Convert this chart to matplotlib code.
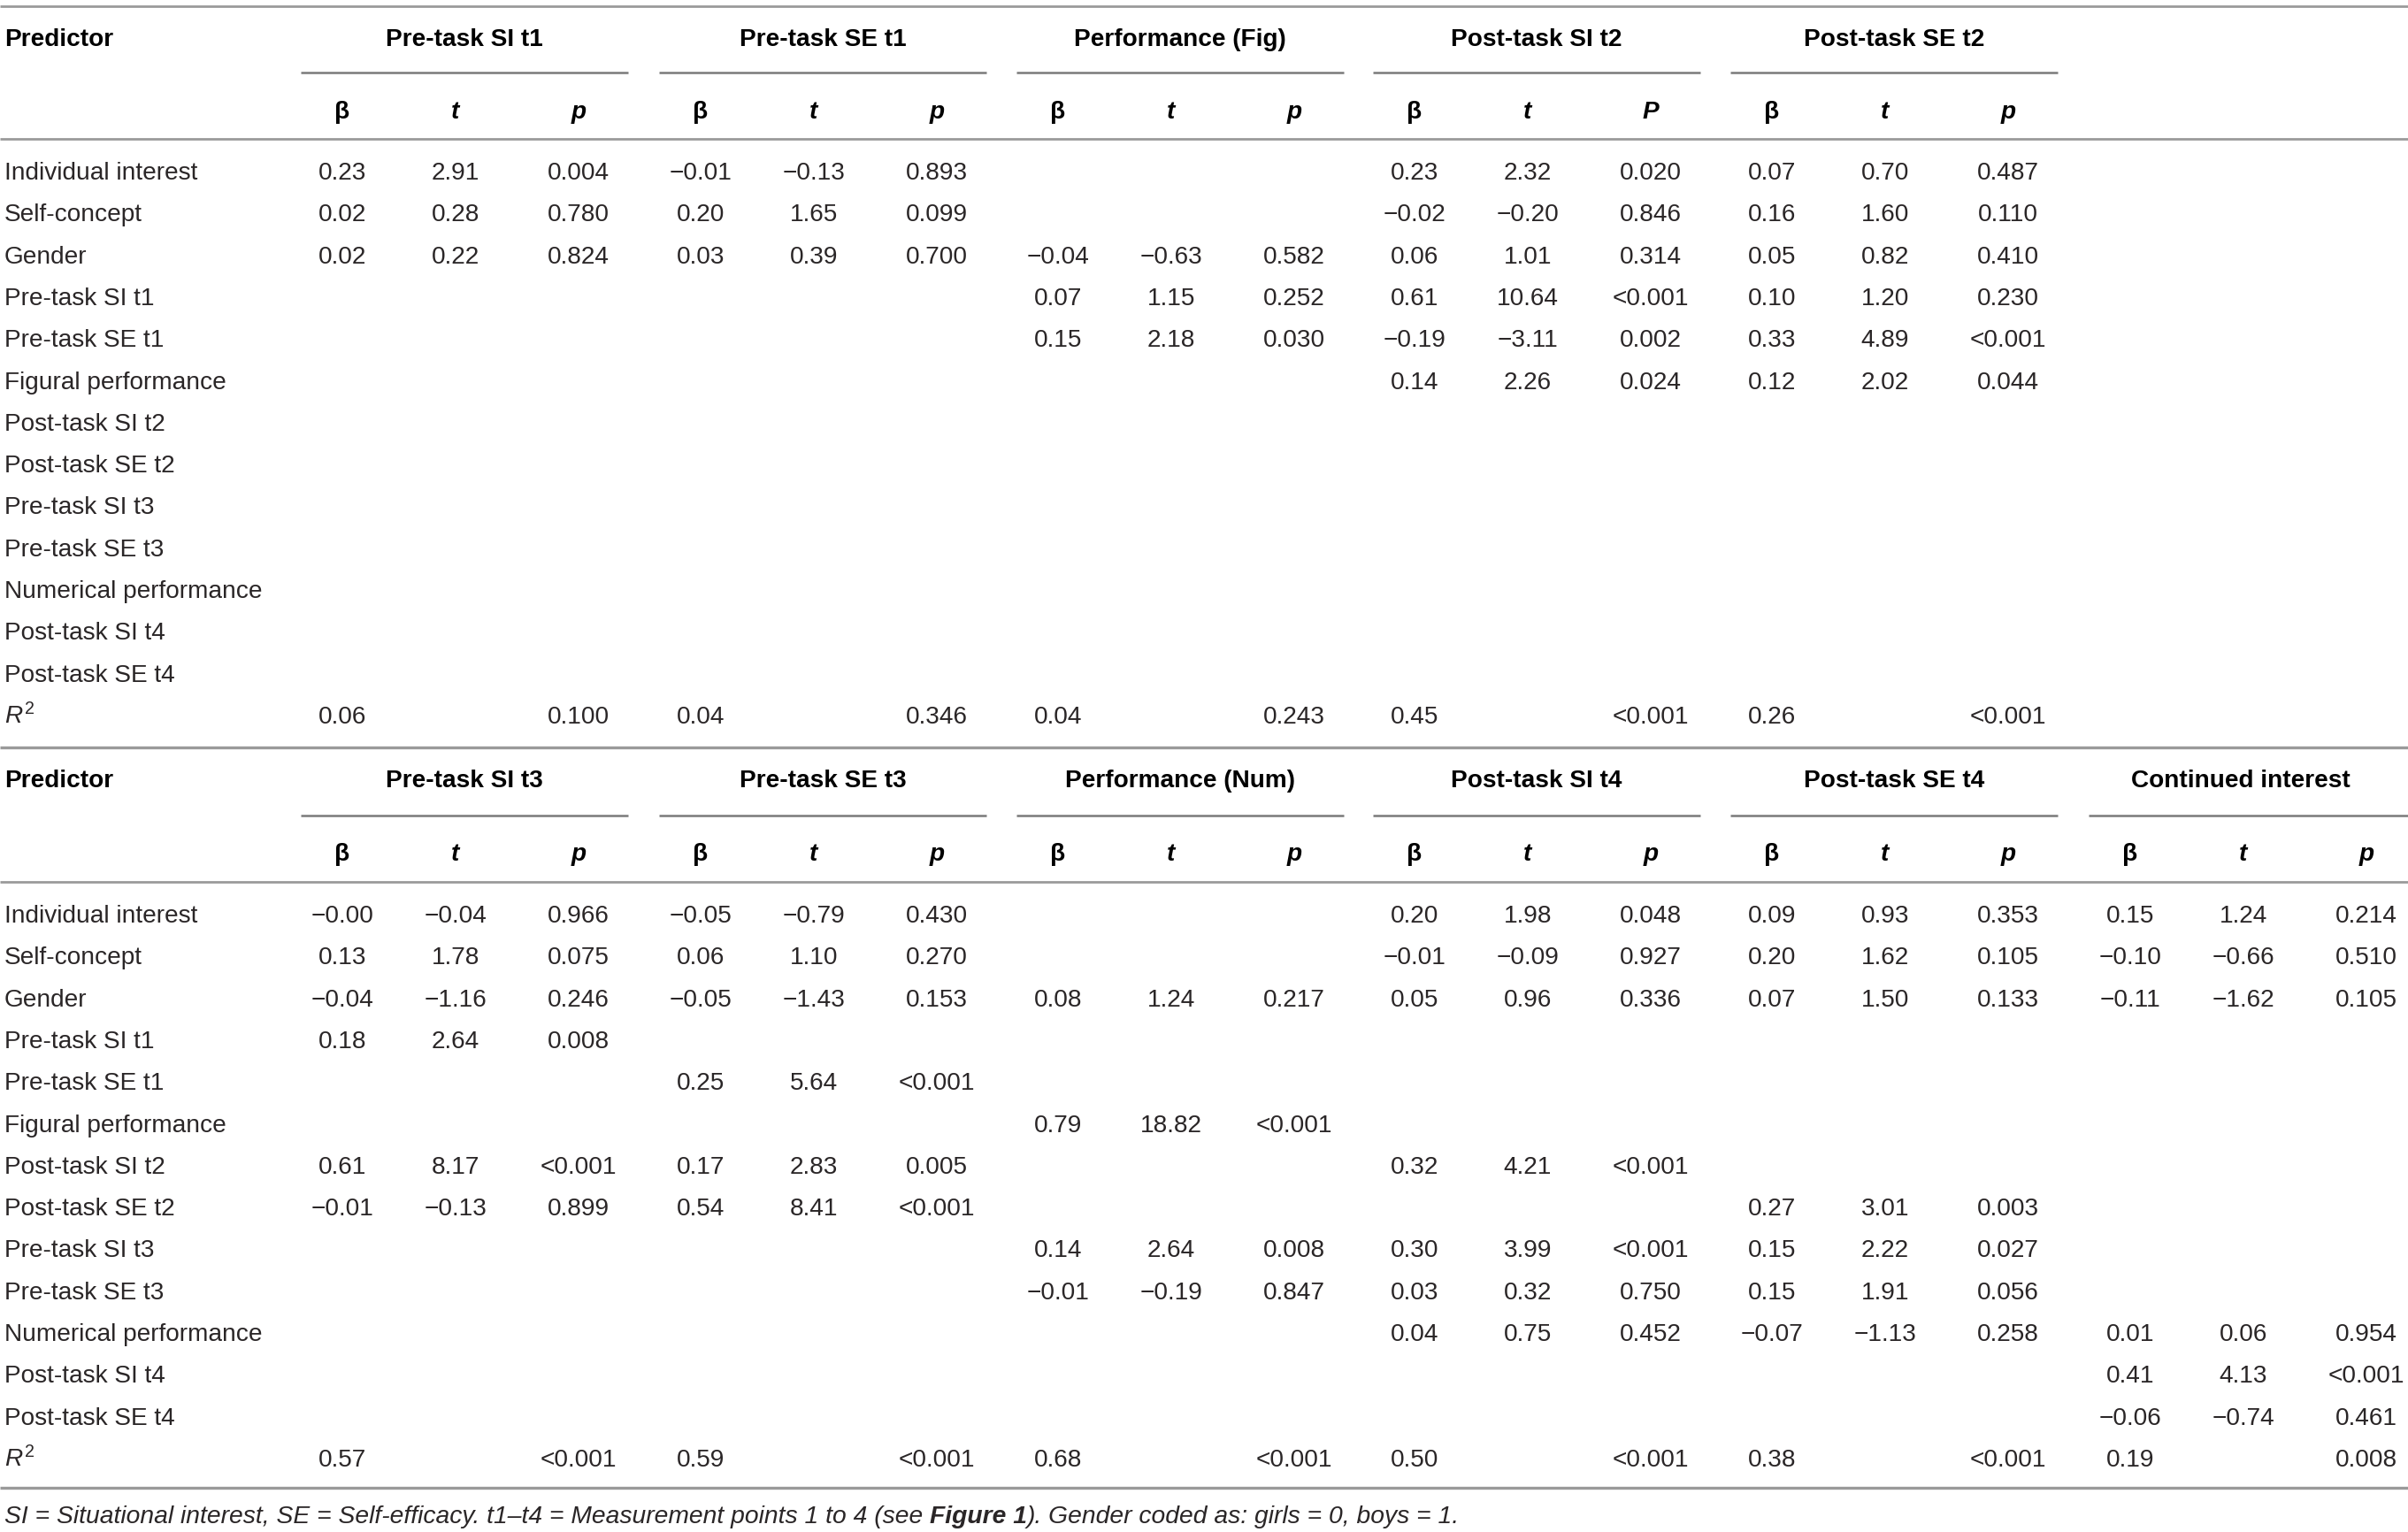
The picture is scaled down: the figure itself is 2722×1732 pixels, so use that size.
import matplotlib
matplotlib.use("Agg")
import matplotlib.pyplot as plt

plt.rcParams['font.family'] = ['Liberation Sans', 'DejaVu Sans']
plt.rcParams['mathtext.fontset'] = 'custom'
plt.rcParams['mathtext.rm'] = 'Liberation Sans'
plt.rcParams['mathtext.it'] = 'Liberation Sans:italic'

# ---- data ----
predictors = ["Individual interest", "Self-concept", "Gender", "Pre-task SI t1", "Pre-task SE t1",
              "Figural performance", "Post-task SI t2", "Post-task SE t2", "Pre-task SI t3",
              "Pre-task SE t3", "Numerical performance", "Post-task SI t4", "Post-task SE t4"]

M = "\u2212"  # minus sign

top_titles = ["Pre-task SI t1", "Pre-task SE t1", "Performance (Fig)", "Post-task SI t2", "Post-task SE t2"]
top_stats = [["β", "t", "p"], ["β", "t", "p"], ["β", "t", "p"], ["β", "t", "P"], ["β", "t", "p"]]

# each column: 13 predictor rows + R² row
pre_si_t1_b = ["0.23", "0.02", "0.02", "", "", "", "", "", "", "", "", "", "", "0.06"]
pre_si_t1_t = ["2.91", "0.28", "0.22", "", "", "", "", "", "", "", "", "", "", ""]
pre_si_t1_p = ["0.004", "0.780", "0.824", "", "", "", "", "", "", "", "", "", "", "0.100"]

pre_se_t1_b = [M + "0.01", "0.20", "0.03", "", "", "", "", "", "", "", "", "", "", "0.04"]
pre_se_t1_t = [M + "0.13", "1.65", "0.39", "", "", "", "", "", "", "", "", "", "", ""]
pre_se_t1_p = ["0.893", "0.099", "0.700", "", "", "", "", "", "", "", "", "", "", "0.346"]

perf_fig_b = ["", "", M + "0.04", "0.07", "0.15", "", "", "", "", "", "", "", "", "0.04"]
perf_fig_t = ["", "", M + "0.63", "1.15", "2.18", "", "", "", "", "", "", "", "", ""]
perf_fig_p = ["", "", "0.582", "0.252", "0.030", "", "", "", "", "", "", "", "", "0.243"]

post_si_t2_b = ["0.23", M + "0.02", "0.06", "0.61", M + "0.19", "0.14", "", "", "", "", "", "", "", "0.45"]
post_si_t2_t = ["2.32", M + "0.20", "1.01", "10.64", M + "3.11", "2.26", "", "", "", "", "", "", "", ""]
post_si_t2_p = ["0.020", "0.846", "0.314", "<0.001", "0.002", "0.024", "", "", "", "", "", "", "", "<0.001"]

post_se_t2_b = ["0.07", "0.16", "0.05", "0.10", "0.33", "0.12", "", "", "", "", "", "", "", "0.26"]
post_se_t2_t = ["0.70", "1.60", "0.82", "1.20", "4.89", "2.02", "", "", "", "", "", "", "", ""]
post_se_t2_p = ["0.487", "0.110", "0.410", "0.230", "<0.001", "0.044", "", "", "", "", "", "", "", "<0.001"]

bot_titles = ["Pre-task SI t3", "Pre-task SE t3", "Performance (Num)", "Post-task SI t4",
              "Post-task SE t4", "Continued interest"]
bot_stats = [["β", "t", "p"]] * 6

pre_si_t3_b = [M + "0.00", "0.13", M + "0.04", "0.18", "", "", "0.61", M + "0.01", "", "", "", "", "", "0.57"]
pre_si_t3_t = [M + "0.04", "1.78", M + "1.16", "2.64", "", "", "8.17", M + "0.13", "", "", "", "", "", ""]
pre_si_t3_p = ["0.966", "0.075", "0.246", "0.008", "", "", "<0.001", "0.899", "", "", "", "", "", "<0.001"]

pre_se_t3_b = [M + "0.05", "0.06", M + "0.05", "", "0.25", "", "0.17", "0.54", "", "", "", "", "", "0.59"]
pre_se_t3_t = [M + "0.79", "1.10", M + "1.43", "", "5.64", "", "2.83", "8.41", "", "", "", "", "", ""]
pre_se_t3_p = ["0.430", "0.270", "0.153", "", "<0.001", "", "0.005", "<0.001", "", "", "", "", "", "<0.001"]

perf_num_b = ["", "", "0.08", "", "", "0.79", "", "", "0.14", M + "0.01", "", "", "", "0.68"]
perf_num_t = ["", "", "1.24", "", "", "18.82", "", "", "2.64", M + "0.19", "", "", "", ""]
perf_num_p = ["", "", "0.217", "", "", "<0.001", "", "", "0.008", "0.847", "", "", "", "<0.001"]

post_si_t4_b = ["0.20", M + "0.01", "0.05", "", "", "", "0.32", "", "0.30", "0.03", "0.04", "", "", "0.50"]
post_si_t4_t = ["1.98", M + "0.09", "0.96", "", "", "", "4.21", "", "3.99", "0.32", "0.75", "", "", ""]
post_si_t4_p = ["0.048", "0.927", "0.336", "", "", "", "<0.001", "", "<0.001", "0.750", "0.452", "", "", "<0.001"]

post_se_t4_b = ["0.09", "0.20", "0.07", "", "", "", "", "0.27", "0.15", "0.15", M + "0.07", "", "", "0.38"]
post_se_t4_t = ["0.93", "1.62", "1.50", "", "", "", "", "3.01", "2.22", "1.91", M + "1.13", "", "", ""]
post_se_t4_p = ["0.353", "0.105", "0.133", "", "", "", "", "0.003", "0.027", "0.056", "0.258", "", "", "<0.001"]

cont_b = ["0.15", M + "0.10", M + "0.11", "", "", "", "", "", "", "", "0.01", "0.41", M + "0.06", "0.19"]
cont_t = ["1.24", M + "0.66", M + "1.62", "", "", "", "", "", "", "", "0.06", "4.13", M + "0.74", ""]
cont_p = ["0.214", "0.510", "0.105", "", "", "", "", "", "", "", "0.954", "<0.001", "0.461", "0.008"]

top_groups = [(pre_si_t1_b, pre_si_t1_t, pre_si_t1_p), (pre_se_t1_b, pre_se_t1_t, pre_se_t1_p),
              (perf_fig_b, perf_fig_t, perf_fig_p), (post_si_t2_b, post_si_t2_t, post_si_t2_p),
              (post_se_t2_b, post_se_t2_t, post_se_t2_p)]
bot_groups = [(pre_si_t3_b, pre_si_t3_t, pre_si_t3_p), (pre_se_t3_b, pre_se_t3_t, pre_se_t3_p),
              (perf_num_b, perf_num_t, perf_num_p), (post_si_t4_b, post_si_t4_t, post_si_t4_p),
              (post_se_t4_b, post_se_t4_t, post_se_t4_p), (cont_b, cont_t, cont_p)]

# ---- layout ----
W, H = 2722, 1732
DPI = 200
FS = 10.1
TXT = "#2a2627"
RULE = "#9a9a9a"
BASE = 10  # half cap height in px

group_x0 = [340, 745, 1149, 1552, 1956, 2361]
title_cx = [525, 930, 1334, 1737, 2141, 2533]
group_len = 370
col_off = [47, 175, 314]
row_step = 47.3

fig = plt.figure(figsize=(W / DPI, H / DPI), dpi=DPI)
ax = fig.add_axes([0, 0, 1, 1])
ax.set_xlim(0, W)
ax.set_ylim(H, 0)
ax.axis("off")


def hline(y, x0=0, x1=W, color=RULE, lw=1.0):
    ax.plot([x0, x1], [y, y], color=color, lw=lw, solid_capstyle="butt")


def draw_block(titles, stats, groups, y_head, y_sub, y_stat, y_rule, y_row0):
    ax.text(5, y_head + BASE, "Predictor", fontsize=FS, fontweight="bold", color="black", va="baseline")
    for g, title in enumerate(titles):
        x0 = group_x0[g]
        ax.text(title_cx[g], y_head + BASE, title, fontsize=FS, fontweight="bold",
                color="black", ha="center", va="baseline")
        hline(y_sub, x0, x0 + group_len, color="#7a7a7a", lw=0.9)
        for c, lab in enumerate(stats[g]):
            style = "normal" if lab == "β" else "italic"
            ax.text(x0 + col_off[c], y_stat + BASE, lab, fontsize=FS, fontweight="bold",
                    fontstyle=style, color="black", ha="center", va="baseline")
    hline(y_rule)
    for r, name in enumerate(predictors):
        ax.text(5, y_row0 + r * row_step + BASE, name, fontsize=FS, color=TXT, va="baseline")
    ax.text(5, y_row0 + 13 * row_step + BASE, r"$R^{\mathrm{2}}$", fontsize=FS, color=TXT, va="baseline")
    for g, cols in enumerate(groups):
        for c, col in enumerate(cols):
            for r, val in enumerate(col):
                if val:
                    ax.text(group_x0[g] + col_off[c], y_row0 + r * row_step + BASE, val,
                            fontsize=FS, color=TXT, ha="center", va="baseline")


hline(7)
draw_block(top_titles, top_stats, top_groups, 42, 82, 124, 157, 193)
hline(845, lw=1.2)
draw_block(bot_titles, bot_stats, bot_groups, 880, 922, 963, 997, 1033)
hline(1682, lw=1.2)

# footnote, pieced together so "Figure 1" can be bold
fig.canvas.draw()
renderer = fig.canvas.get_renderer()
parts = [("SI = Situational interest, SE = Self-efficacy. t1\u2013t4 = Measurement points 1 to 4 (see ", "normal"),
         ("Figure 1", "bold"),
         ("). Gender coded as: girls = 0, boys = 1.", "normal")]
x = 5
for s, w in parts:
    t = ax.text(x, 1712 + 10, s, fontsize=10.2, fontstyle="italic", fontweight=w, color=TXT, va="baseline")
    x = t.get_window_extent(renderer).x1

fig.savefig("out.png", dpi=DPI)
